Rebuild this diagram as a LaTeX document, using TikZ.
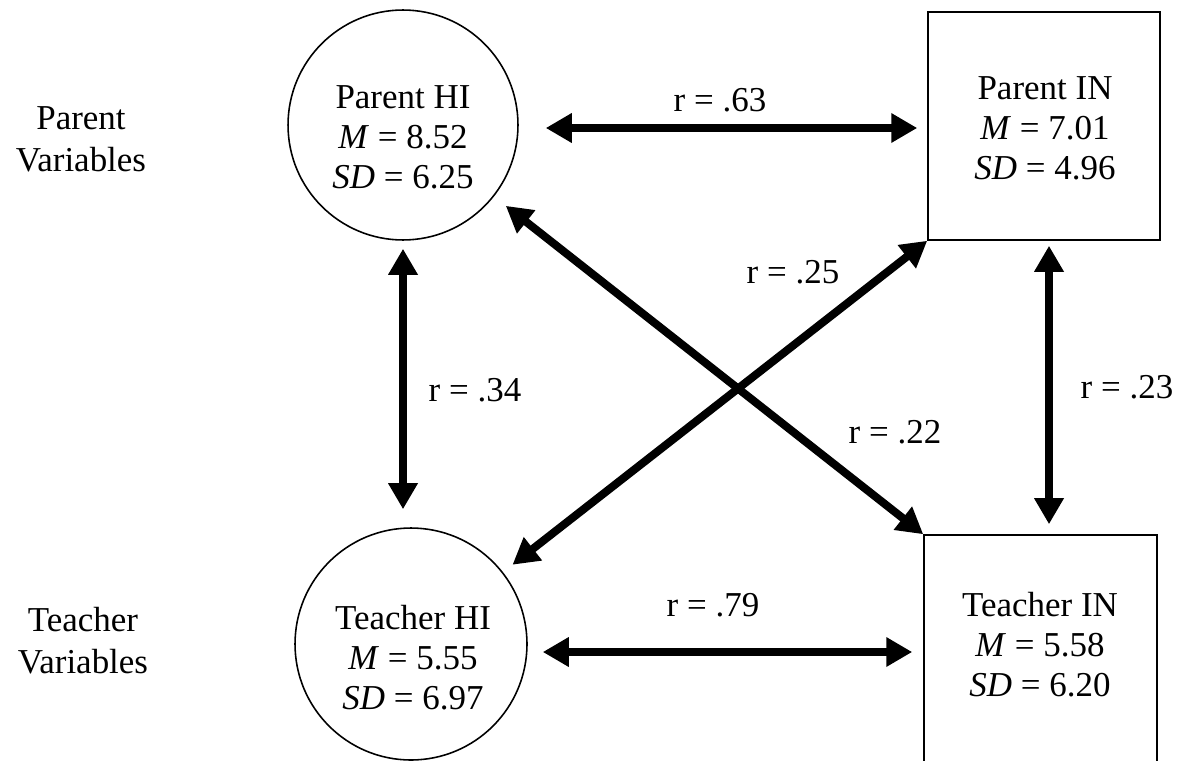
\documentclass[tikz,border=0pt]{standalone}
\usepackage{fontspec}
\setmainfont{Liberation Serif}
\usetikzlibrary{arrows.meta}
\tikzset{
  shapeline/.style={draw, line width=0.9pt, inner sep=0pt},
  circvar/.style={shapeline, circle},
  boxvar/.style={shapeline, rectangle},
  vartext/.style={align=center, inner sep=0pt, font=\fontsize{19.9}{22.8}\selectfont},
  sidetext/.style={align=center, inner sep=0pt, font=\fontsize{19.9}{24}\selectfont},
  corrlabel/.style={inner sep=0pt, font=\fontsize{19.9}{22.8}\selectfont},
  corr/.style={line width=0.16cm,
    {Triangle[length=0.52cm,width=0.56cm]}-{Triangle[length=0.52cm,width=0.56cm]}},
}
\begin{document}
\begin{tikzpicture}[x=0.02cm, y=-0.02cm]
\useasboundingbox (0,0) rectangle (1185,760);
\clip (0,0) rectangle (1185,760);
\fill[white] (0,0) rectangle (1185,760);

% side labels
\node[sidetext] (pv) at (81,139) {Parent\\Variables};
\node[sidetext] (tv) at (83,641) {Teacher\\Variables};

% variables
\node[circvar, minimum size=4.6cm] (phi) at (403,125) {};
\node[vartext] (phit) at (403,137) {Parent HI\\\textit{M} = 8.52\\\textit{SD} = 6.25};

\node[boxvar, minimum width=4.64cm, minimum height=4.56cm] (pin) at (1044,126) {};
\node[vartext] (pint) at (1045,128) {Parent IN\\\textit{M} = 7.01\\\textit{SD} = 4.96};

\node[circvar, minimum size=4.64cm] (thi) at (411,644) {};
\node[vartext] (thit) at (413,658) {Teacher HI\\\textit{M} = 5.55\\\textit{SD} = 6.97};

\node[boxvar, minimum width=4.66cm, minimum height=4.6cm] (tin) at (1040.5,650) {};
\node[vartext] (tint) at (1040,645) {Teacher IN\\\textit{M} = 5.58\\\textit{SD} = 6.20};

% helper coordinates
\coordinate (h1) at (0,128);
\coordinate (h2) at (0,652);
\coordinate (v1) at (403,0);
\coordinate (v2) at (1049,0);

% correlations
\draw[corr, shorten <=0.54cm, shorten >=0.2cm] (phi.east |- h1) -- (pin.west |- h1);
\draw[corr, shorten <=0.3cm, shorten >=0.22cm] (thi.east |- h2) -- (tin.west |- h2);
\draw[corr, shorten <=0.16cm, shorten >=0.36cm] (phi.south) -- (v1 |- thi.north);
\draw[corr, shorten <=0.1cm, shorten >=0.2cm] (v2 |- pin.south) -- (v2 |- tin.north);
\draw[corr, shorten <=0.3cm] (phi) -- (tin.north west);
\draw[corr, shorten <=0.24cm] (thi) -- (pin.south west);

% labels
\node[corrlabel] (l63) at (720,100) {r = .63};
\node[corrlabel] (l79) at (713,605) {r = .79};
\node[corrlabel] (l34) at (475,390) {r = .34};
\node[corrlabel] (l23) at (1127,387) {r = .23};
\node[corrlabel] (l25) at (793,272) {r = .25};
\node[corrlabel] (l22) at (895,432) {r = .22};
\end{tikzpicture}
\end{document}
